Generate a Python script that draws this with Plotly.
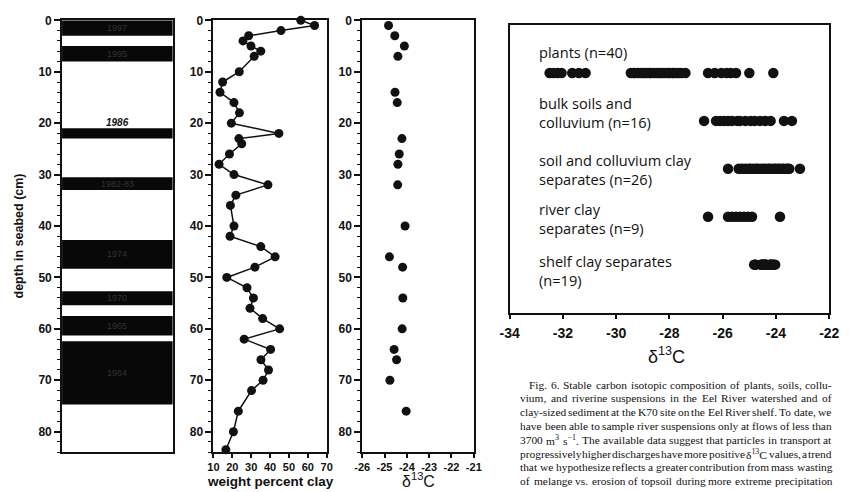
import re
import plotly.graph_objects as go

# ---------------------------------------------------------------- data
# Core K70: flood-deposit bands (depth in cm) with their year labels
band_top = [0, 5, 21, 30.5, 42.7, 52.7, 57.5, 62.4]
band_bottom = [3, 8, 23, 33, 48.3, 55.4, 61.3, 74.7]
band_years = ["1997", "1995", "1986", "1982-83", "1974", "1970", "1965", "1964"]

# Clay content down core
clay_depth = [0, 1, 2, 3, 4, 5, 6, 7, 10, 12, 14, 16, 18, 20, 22, 23, 24, 26,
              28, 30, 32, 34, 36, 40, 42, 44, 46, 48, 50, 52, 54, 56, 58, 60,
              62, 64, 66, 68, 70, 72, 76, 80, 83.5]
clay_pct = [56.3, 63.6, 45.8, 28.7, 25.7, 29.9, 35.1, 31.6, 23.7, 14.9, 13.5,
            20.9, 23.8, 19.5, 44.7, 23.5, 25.0, 18.5, 13.0, 20.9, 38.9, 21.9,
            19.0, 20.9, 18.8, 35.1, 42.7, 32.0, 17.1, 27.8, 31.2, 29.4, 36.1,
            45.1, 26.3, 40.3, 35.2, 39.2, 36.3, 30.2, 23.2, 20.6, 16.6]

# d13C of clay separates down core (also the "shelf clay separates" group)
d13c_depth = [1, 3, 5, 7, 14, 16, 23, 26, 28, 32, 40, 46, 48, 54, 60, 64, 66, 70, 76]
d13c_core = [-24.82, -24.54, -24.11, -24.40, -24.53, -24.43, -24.22, -24.34,
             -24.40, -24.41, -24.08, -24.78, -24.19, -24.18, -24.21, -24.57,
             -24.46, -24.76, -24.03]

# Watershed sample groups
d13c_plants = [-32.5, -32.35, -32.2, -32.05, -31.65, -31.4, -31.15,
               -29.45, -29.35, -29.3, -29.2, -29.1, -29.0, -28.95, -28.85,
               -28.75, -28.7, -28.6, -28.5, -28.4, -28.35, -28.25, -28.15,
               -28.05, -28.0, -27.9, -27.85, -27.75, -27.65, -27.55, -27.4,
               -26.55, -26.3, -26.05, -25.85, -25.7, -25.5, -25.0, -24.1]
d13c_bulk = [-26.7, -26.25, -26.1, -25.95, -25.8, -25.65, -25.45, -25.35,
             -25.15, -24.95, -24.8, -24.6, -24.4, -24.2, -23.7, -23.4]
d13c_soil_clay = [-25.8, -25.4, -25.3, -25.2, -25.1, -25.0, -24.95, -24.85,
                  -24.75, -24.7, -24.6, -24.5, -24.4, -24.3, -24.25, -24.15,
                  -24.05, -24.0, -23.9, -23.85, -23.75, -23.7, -23.6, -23.55,
                  -23.5, -23.1]
d13c_river = [-26.55, -25.8, -25.65, -25.5, -25.35, -25.2, -25.05, -24.9, -23.85]
d13c_shelf = d13c_core

groups = ["plants", "bulk", "soil_clay", "river", "shelf"]
group_values = [d13c_plants, d13c_bulk, d13c_soil_clay, d13c_river, d13c_shelf]
group_labels = ["plants (n=40)",
                "bulk soils and<br>colluvium (n=16)",
                "soil and colluvium clay<br>separates (n=26)",
                "river clay<br>separates (n=9)",
                "shelf clay separates<br>(n=19)"]

clay_ticks = [10, 20, 30, 40, 50, 60, 70]
core_d13c_ticks = [-26, -25, -24, -23, -22, -21]
group_d13c_ticks = [-34, -32, -30, -28, -26, -24, -22]

caption = [
    "Fig. 6. Stable carbon isotopic composition of plants, soils, collu-",
    "vium, and riverine suspensions in the Eel River watershed and of",
    "clay-sized sediment at the K70 site on the Eel River shelf. To date, we",
    "have been able to sample river suspensions only at flows of less than",
    "3700 m<sup>3</sup> s<sup>\u22121</sup>. The available data suggest that particles in transport at",
    "progressively higher discharges have more positive \u03b4<sup>13</sup>C values, a trend",
    "that we hypothesize reflects a greater contribution from mass wasting",
    "of melange vs. erosion of topsoil during more extreme precipitation",
]

# ---------------------------------------------------------------- layout helpers
W, H = 849, 492


def fx(px):
    return px / W


def fy(py):
    return 1 - py / H


INK = "#111111"
SANS = "Liberation Sans"
bold12 = dict(family=SANS, size=12, color=INK, weight="bold")

fig = go.Figure()

# Core strip: flood layers as floating bars
fig.add_trace(go.Bar(
    x=[0.5] * len(band_top),
    y=[b - t for t, b in zip(band_top, band_bottom)],
    base=band_top, width=1, xaxis="x", yaxis="y",
    marker=dict(color="#080808", line=dict(width=0)), hoverinfo="skip"))

# Clay profile
fig.add_trace(go.Scatter(
    x=clay_pct, y=clay_depth, xaxis="x2", yaxis="y2", mode="lines+markers",
    line=dict(color=INK, width=1.5), marker=dict(size=9, color=INK),
    cliponaxis=False))

# Core d13C
fig.add_trace(go.Scatter(
    x=d13c_core, y=d13c_depth, xaxis="x3", yaxis="y3", mode="markers",
    marker=dict(size=9, color=INK), cliponaxis=False))

# Watershed groups
for name, vals in zip(groups, group_values):
    fig.add_trace(go.Scatter(
        x=vals, y=[name] * len(vals), xaxis="x4", yaxis="y4", mode="markers",
        marker=dict(size=10.5, color=INK)))

left_dom_y = [fy(451.7), fy(13.5)]
depth_axis = dict(
    range=[84, 0], tick0=0, dtick=10, ticks="outside", ticklen=6,
    tickwidth=1.5, tickcolor=INK, showline=True, linewidth=1.8,
    linecolor=INK, mirror=True, showgrid=False, zeroline=False,
    tickfont=bold12, domain=left_dom_y,
    minor=dict(dtick=2, ticks="outside", ticklen=3.5, tickwidth=1.2,
               tickcolor=INK, showgrid=False))

frame_x = dict(showline=True, linewidth=1.8, linecolor=INK, mirror=True,
               showgrid=False, zeroline=False)
small_x_font = dict(family=SANS, size=11, color=INK, weight="bold")

fig.update_layout(
    width=W, height=H, margin=dict(l=0, r=0, t=0, b=0, pad=0),
    paper_bgcolor="white", plot_bgcolor="white", showlegend=False,
    barmode="overlay",
    xaxis=dict(domain=[fx(53.3), fx(166.7)], range=[0, 1], anchor="y",
               showticklabels=False, ticks="", **frame_x),
    yaxis=dict(anchor="x", **depth_axis),
    xaxis2=dict(domain=[fx(208.3), fx(324.3)], range=[10, 70], anchor="y2",
                tickvals=clay_ticks, ticks="outside", ticklen=4,
                tickwidth=1.5, tickcolor=INK, ticklabelstandoff=0,
                tickfont=small_x_font, **frame_x),
    yaxis2=dict(anchor="x2", **depth_axis),
    xaxis3=dict(domain=[fx(360.7), fx(475)], range=[-26, -21], anchor="y3",
                tickvals=core_d13c_ticks,
                ticktext=[str(v) for v in core_d13c_ticks],
                ticks="outside", ticklen=4, tickwidth=1.5, tickcolor=INK,
                ticklabelstandoff=0, tickfont=small_x_font, **frame_x),
    yaxis3=dict(anchor="x3", **depth_axis),
    xaxis4=dict(domain=[fx(511.7), fx(839)], range=[-34, -22], anchor="y4",
                tickvals=group_d13c_ticks,
                ticktext=[str(v) for v in group_d13c_ticks],
                ticks="outside", ticklen=5, tickwidth=1.5, tickcolor=INK,
                ticklabelstandoff=2,
                tickfont=dict(family=SANS, size=14, color=INK, weight="bold"),
                showline=True, linewidth=1.6, linecolor=INK, mirror=True,
                showgrid=False, zeroline=False),
    yaxis4=dict(domain=[fy(310), fy(18.3)], anchor="x4", type="category",
                categoryarray=groups[::-1], range=[-1, 5],
                showticklabels=False, ticks="", showline=True, linewidth=1.6,
                linecolor=INK, mirror=True, showgrid=False, zeroline=False),
)

ann = []

# Year labels on the core strip
for top, bot, year in zip(band_top, band_bottom, band_years):
    if year == "1986":
        ann.append(dict(x=0.5, y=top - 1.1, xref="x", yref="y", text=year,
                        xanchor="center", yanchor="middle", showarrow=False,
                        font=dict(family=SANS, size=10, color=INK,
                                  weight="bold", style="italic")))
    else:
        ann.append(dict(x=0.5, y=(top + bot) / 2, xref="x", yref="y",
                        text=year, xanchor="center", yanchor="middle",
                        showarrow=False,
                        font=dict(family=SANS, size=9, color="#333333")))


def title(px, py, text, **font):
    ann.append(dict(x=fx(px), y=fy(py), xref="paper", yref="paper", text=text,
                    xanchor="center", yanchor="middle", showarrow=False,
                    font=dict(family=SANS, color=INK, **font)))


# Axis titles
title(9, 232, "depth in seabed (cm)", size=12.5, weight="bold")
ann[-1]["textangle"] = -90
title(267, 481, "weight percent clay", size=13.5, weight="bold")
title(418, 480, "\u03b4<sup>13</sup>C", size=16)
title(672, 354, "\u03b4<sup>13</sup>C", size=18)

# Group labels: pixel shift of each text block's centre below its row of dots
label_shift = [-21, -8.5, 0.9, 2.2, 6.3]
for i, (label, shift) in enumerate(zip(group_labels, label_shift)):
    row = len(groups) - 1 - i
    ann.append(dict(x=fx(540), y=row, xref="paper", yref="y4", text=label,
                    xanchor="left", yanchor="middle", yshift=-shift,
                    align="left", showarrow=False,
                    font=dict(family="Open Sans", size=14.6, color=INK)))

# Caption, fully justified using Times-compatible advance widths
SERIF_W = {" ": 250, "!": 333, "(": 333, ")": 333, ",": 250, "-": 333,
           ".": 250, ":": 278, "=": 564, "\u2212": 564, "\u03b4": 494}
for c in "0123456789":
    SERIF_W[c] = 500
SERIF_W.update(dict(zip("abcdefghijklmnopqrstuvwxyz",
                        [444, 500, 444, 500, 444, 333, 500, 500, 278, 278, 500,
                         278, 778, 500, 500, 500, 500, 333, 389, 278, 500, 500,
                         722, 500, 500, 444])))
SERIF_W.update(dict(zip("ABCDEFGHIJKLMNOPQRSTUVWXYZ",
                        [722, 667, 667, 722, 611, 556, 722, 722, 333, 389, 722,
                         611, 889, 722, 722, 556, 722, 667, 556, 611, 722, 722,
                         944, 722, 722, 611])))

CAP_SIZE = 11.4


def word_width(word):
    total = 0.0
    for sup, plain in re.findall(r"<sup>(.*?)</sup>|([^<]+)", word):
        for ch in sup:
            total += 0.7 * SERIF_W.get(ch, 500)
        for ch in plain:
            total += SERIF_W.get(ch, 500)
    return total * CAP_SIZE / 1000


cap_right = 840
for i, line in enumerate(caption):
    left = 530 if i == 0 else 521.7
    words = line.split(" ")
    widths = [word_width(w) for w in words]
    gap = (cap_right - left - sum(widths)) / (len(words) - 1)
    ypx = 383 + 14 * i
    xpos = left
    for w, wd in zip(words, widths):
        ann.append(dict(x=fx(xpos), y=fy(ypx), xref="paper", yref="paper",
                        text=w, xanchor="left", yanchor="middle",
                        showarrow=False, borderpad=0,
                        font=dict(family="Liberation Serif", size=CAP_SIZE,
                                  color=INK)))
        xpos += wd + gap

fig.update_layout(annotations=ann)
fig.write_html("out.html")
